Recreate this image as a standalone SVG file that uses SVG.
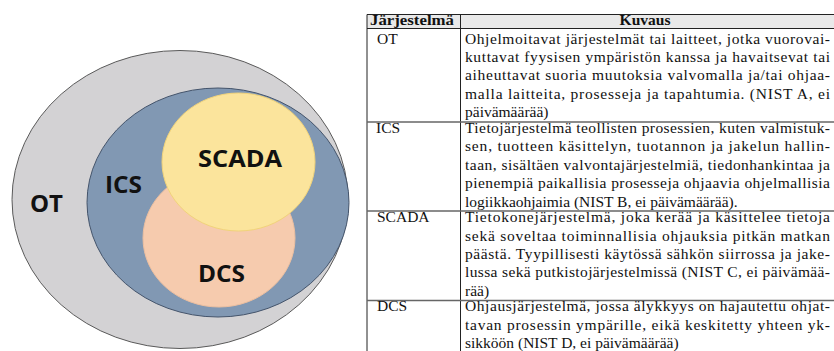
<svg xmlns="http://www.w3.org/2000/svg" width="834" height="351" viewBox="0 0 834 351">
  <style>
    .venn-label { font-family: "Open Sans", "Liberation Sans", sans-serif; font-weight: 700; font-size: 24px; fill: #111; }
    .cell { font-family: "Liberation Serif", "DejaVu Serif", serif; font-size: 15.5px; fill: #111; }
    .head { font-family: "Liberation Serif", "DejaVu Serif", serif; font-size: 15.5px; font-weight: 700; fill: #111; }
    .rule { stroke: #222; stroke-width: 1; fill: none; }
    .row-rule { stroke: #666; stroke-width: 1.6; fill: none; }
  </style>
  <rect width="834" height="351" fill="#ffffff"/>

  <!-- Nested set diagram -->
  <g id="node-ot">
    <ellipse cx="180" cy="199.5" rx="168" ry="149" fill="#d3d2d4" stroke="#5a5a5a" stroke-width="1"/>
    <text class="venn-label" x="30" y="212" textLength="33" lengthAdjust="spacingAndGlyphs">OT</text>
  </g>
  <g id="node-ics">
    <ellipse cx="218" cy="202.5" rx="131" ry="114.5" fill="#8198b3" stroke="#44546b" stroke-width="1"/>
    <text class="venn-label" x="105" y="193" textLength="37" lengthAdjust="spacingAndGlyphs">ICS</text>
  </g>
  <g id="node-dcs">
    <ellipse cx="219" cy="238" rx="76" ry="69" fill="#f6cbae" stroke="#ecbfa0" stroke-width="1"/>
    <text class="venn-label" x="198" y="282" textLength="47" lengthAdjust="spacingAndGlyphs">DCS</text>
  </g>
  <g id="node-scada">
    <ellipse cx="238.5" cy="162" rx="76.5" ry="69" fill="#fbe49c" stroke="#f1d37a" stroke-width="1"/>
    <text class="venn-label" x="198" y="167" textLength="84" lengthAdjust="spacingAndGlyphs">SCADA</text>
  </g>

  <!-- Definitions table -->
  <g id="table">
    <rect x="367" y="14.5" width="470" height="14" fill="#e9e9e9"/>
    <line class="rule" x1="367" y1="14.5" x2="834" y2="14.5"/>
    <line class="rule" x1="367" y1="28.5" x2="834" y2="28.5"/>
    <line class="rule" x1="367" y1="14.5" x2="367" y2="351"/>
    <line class="rule" x1="460.5" y1="14.5" x2="460.5" y2="351"/>
    <line class="row-rule" x1="367" y1="122" x2="834" y2="122"/>
    <line class="row-rule" x1="367" y1="211" x2="834" y2="211"/>
    <line class="row-rule" x1="367" y1="300.5" x2="834" y2="300.5"/>

    <text class="head" x="370" y="24.5" textLength="84" lengthAdjust="spacingAndGlyphs">Järjestelmä</text>
    <text class="head" x="645" y="24.5" text-anchor="middle">Kuvaus</text>

    <g id="row-ot">
      <text class="cell" x="377" y="43.5">OT</text>
      <text class="cell" x="465" y="43.5" textLength="365" lengthAdjust="spacing">Ohjelmoitavat järjestelmät tai laitteet, jotka vuorovai-</text>
      <text class="cell" x="465" y="61.95" textLength="365" lengthAdjust="spacing">kuttavat fyysisen ympäristön kanssa ja havaitsevat tai</text>
      <text class="cell" x="465" y="80.4" textLength="365" lengthAdjust="spacing">aiheuttavat suoria muutoksia valvomalla ja/tai ohjaa-</text>
      <text class="cell" x="465" y="98.85" textLength="365" lengthAdjust="spacing">malla laitteita, prosesseja ja tapahtumia. (NIST A, ei</text>
      <text class="cell" x="465" y="117.3">päivämäärää)</text>
    </g>
    <g id="row-ics">
      <text class="cell" x="376" y="132.8">ICS</text>
      <text class="cell" x="465" y="132.8" textLength="365" lengthAdjust="spacing">Tietojärjestelmä teollisten prosessien, kuten valmistuk-</text>
      <text class="cell" x="465" y="151.25" textLength="365" lengthAdjust="spacing">sen, tuotteen käsittelyn, tuotannon ja jakelun hallin-</text>
      <text class="cell" x="465" y="169.7" textLength="365" lengthAdjust="spacing">taan, sisältäen valvontajärjestelmiä, tiedonhankintaa ja</text>
      <text class="cell" x="465" y="188.15" textLength="365" lengthAdjust="spacing">pienempiä paikallisia prosesseja ohjaavia ohjelmallisia</text>
      <text class="cell" x="465" y="206.6">logiikkaohjaimia (NIST B, ei päivämäärää).</text>
    </g>
    <g id="row-scada">
      <text class="cell" x="377" y="222.1">SCADA</text>
      <text class="cell" x="465" y="222.1" textLength="365" lengthAdjust="spacing">Tietokonejärjestelmä, joka kerää ja käsittelee tietoja</text>
      <text class="cell" x="465" y="240.55" textLength="365" lengthAdjust="spacing">sekä soveltaa toiminnallisia ohjauksia pitkän matkan</text>
      <text class="cell" x="465" y="259" textLength="365" lengthAdjust="spacing">päästä. Tyypillisesti käytössä sähkön siirrossa ja jake-</text>
      <text class="cell" x="465" y="277.45" textLength="365" lengthAdjust="spacing">lussa sekä putkistojärjestelmissä (NIST C, ei päivämää-</text>
      <text class="cell" x="465" y="295.9">rää)</text>
    </g>
    <g id="row-dcs">
      <text class="cell" x="377" y="311.4">DCS</text>
      <text class="cell" x="465" y="311.4" textLength="365" lengthAdjust="spacing">Ohjausjärjestelmä, jossa älykkyys on hajautettu ohjat-</text>
      <text class="cell" x="465" y="329.85" textLength="365" lengthAdjust="spacing">tavan prosessin ympärille, eikä keskitetty yhteen yk-</text>
      <text class="cell" x="465" y="348.3">sikköön (NIST D, ei päivämäärää)</text>
    </g>
  </g>
</svg>
